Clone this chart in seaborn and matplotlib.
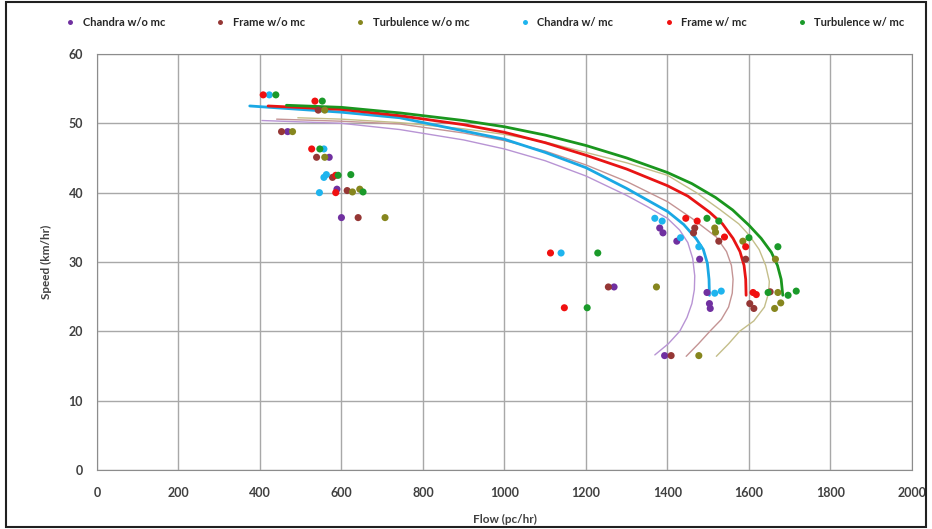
import matplotlib
matplotlib.use("Agg")
import matplotlib.pyplot as plt
import matplotlib.patches as mpatches
import pandas as pd
import seaborn as sns

chandra_wo_flow = [468, 570, 589, 600, 1269, 1381, 1389, 1423, 1479, 1497, 1503, 1505, 1393]
chandra_wo_speed = [48.8, 45.1, 40.5, 36.4, 26.4, 34.9, 34.2, 33.0, 30.4, 25.6, 24.0, 23.3, 16.5]

frame_wo_flow = [453, 543, 539, 578, 614, 641, 1255, 1467, 1464, 1526, 1592, 1602, 1612, 1652, 1409]
frame_wo_speed = [48.8, 51.9, 45.1, 42.2, 40.3, 36.4, 26.4, 34.9, 34.2, 33.0, 30.4, 24.0, 23.3, 25.7, 16.5]

turb_wo_flow = [480, 559, 559, 627, 645, 707, 1373, 1516, 1518, 1585, 1665, 1671, 1678, 1663, 1477]
turb_wo_speed = [48.8, 51.9, 45.1, 40.1, 40.5, 36.4, 26.4, 34.9, 34.3, 33.0, 30.4, 25.6, 24.1, 23.3, 16.5]

chandra_w_flow = [423, 557, 557, 563, 546, 1139, 1369, 1387, 1432, 1477, 1516, 1532]
chandra_w_speed = [54.1, 46.3, 42.2, 42.6, 40.0, 31.3, 36.3, 35.9, 33.5, 32.2, 25.5, 25.8]

frame_w_flow = [408, 535, 527, 586, 586, 1113, 1147, 1445, 1473, 1540, 1592, 1610, 1618]
frame_w_speed = [54.1, 53.2, 46.3, 42.5, 40.0, 31.3, 23.4, 36.3, 35.9, 33.6, 32.2, 25.6, 25.3]

turb_w_flow = [439, 553, 547, 592, 623, 653, 1229, 1203, 1497, 1526, 1600, 1671, 1647, 1696, 1716]
turb_w_speed = [54.1, 53.2, 46.3, 42.5, 42.6, 40.1, 31.3, 23.4, 36.3, 35.9, 33.5, 32.2, 25.6, 25.2, 25.8]

# Fitted curves, points
chandra_wo_curve_flow = [405, 600, 743, 900, 1000, 1100, 1200, 1300, 1350, 1400, 1430, 1450, 1462, 1467,
                         1466, 1460, 1448, 1430, 1402, 1369]
chandra_wo_curve_speed = [50.4, 50.0, 49.1, 47.6, 46.3, 44.6, 42.4, 39.6, 38.0, 36.3, 34.6, 32.8, 30.5, 28.0,
                          26.0, 24.0, 22.0, 20.0, 18.2, 16.6]

frame_wo_curve_flow = [441, 600, 743, 900, 1000, 1100, 1200, 1300, 1400, 1460, 1520, 1545, 1557, 1561,
                       1559, 1550, 1532, 1504, 1476, 1446]
frame_wo_curve_speed = [50.6, 50.3, 49.9, 48.6, 47.5, 46.0, 44.0, 41.6, 38.7, 36.3, 33.6, 31.5, 29.5, 27.5,
                        25.5, 23.5, 21.7, 20.0, 18.2, 16.4]

turb_wo_curve_flow = [493, 600, 743, 900, 1000, 1100, 1200, 1300, 1400, 1471, 1530, 1575, 1600, 1625, 1641,
                      1650, 1648, 1638, 1612, 1577, 1550, 1520]
turb_wo_curve_speed = [50.8, 50.6, 50.1, 49.2, 48.4, 47.3, 45.8, 44.3, 42.5, 40.0, 37.5, 35.5, 33.9, 31.8, 29.5,
                       27.2, 25.5, 23.5, 21.5, 20.0, 18.2, 16.4]

chandra_w_curve_flow = [375, 600, 743, 900, 1000, 1100, 1200, 1300, 1400, 1440, 1470, 1488, 1498, 1502, 1503]
chandra_w_curve_speed = [52.5, 51.6, 50.8, 48.9, 47.7, 45.8, 43.6, 40.6, 37.3, 35.4, 33.4, 31.8, 29.8, 27.5, 25.2]

frame_w_curve_flow = [420, 600, 743, 900, 1000, 1100, 1200, 1300, 1400, 1450, 1503, 1535, 1561, 1578, 1588,
                      1592, 1593]
frame_w_curve_speed = [52.5, 52.0, 51.1, 49.8, 48.7, 47.2, 45.4, 43.4, 41.0, 39.5, 37.2, 35.5, 33.4, 31.5, 29.5,
                       27.5, 25.2]

turb_w_curve_flow = [465, 600, 743, 900, 1000, 1100, 1200, 1300, 1400, 1460, 1518, 1560, 1600, 1630, 1655,
                     1670, 1679, 1683]
turb_w_curve_speed = [52.6, 52.3, 51.5, 50.4, 49.5, 48.3, 46.8, 45.0, 42.9, 41.3, 39.3, 37.5, 35.3, 33.4, 31.4,
                      29.5, 27.5, 25.2]

series = ["Chandra w/o mc", "Frame w/o mc", "Turbulence w/o mc",
          "Chandra w/ mc", "Frame w/ mc", "Turbulence w/ mc"]
dot_colors = ["#7030A0", "#953735", "#86861E", "#1EB4EE", "#F01010", "#1A9A2A"]
line_colors = ["#B894D4", "#C49494", "#C4BE8A", "#1AA8E4", "#E81414", "#1A961E"]
line_widths = [1.0, 1.0, 1.0, 2.0, 2.0, 2.0]

pts = [(chandra_wo_flow, chandra_wo_speed), (frame_wo_flow, frame_wo_speed),
       (turb_wo_flow, turb_wo_speed), (chandra_w_flow, chandra_w_speed),
       (frame_w_flow, frame_w_speed), (turb_w_flow, turb_w_speed)]
curves = [(chandra_wo_curve_flow, chandra_wo_curve_speed), (frame_wo_curve_flow, frame_wo_curve_speed),
          (turb_wo_curve_flow, turb_wo_curve_speed), (chandra_w_curve_flow, chandra_w_curve_speed),
          (frame_w_curve_flow, frame_w_curve_speed), (turb_w_curve_flow, turb_w_curve_speed)]

df_pts = pd.concat([pd.DataFrame({"flow": f, "speed": s, "model": name})
                    for name, (f, s) in zip(series, pts)], ignore_index=True)

sns.set_style("white")
plt.rcParams['font.family'] = ['Lato', 'DejaVu Sans']

fig = plt.figure(figsize=(9.32, 5.29), dpi=100)
ax = fig.add_axes([0.104, 0.1115, 0.8745, 0.7865])

for name, (f, s), c, lw in zip(series, curves, line_colors, line_widths):
    sns.lineplot(x=f, y=s, sort=False, color=c, lw=lw, ax=ax, legend=False, estimator=None)

sns.scatterplot(data=df_pts, x="flow", y="speed", hue="model", hue_order=series,
                palette=dot_colors, s=26, linewidth=0, ax=ax, zorder=5)

ax.set_xlim(0, 2000)
ax.set_ylim(0, 60)
ax.set_xticks(range(0, 2001, 200))
ax.set_yticks(range(0, 61, 10))
ax.grid(True, color="#A8A8A8", lw=1)
for sp in ax.spines.values():
    sp.set_color("#8C8C8C")
ax.tick_params(axis="both", length=3, color="#8C8C8C", labelsize=9, labelcolor="#404040")
ax.tick_params(axis="x", pad=9)
ax.tick_params(axis="y", pad=7)
for lab in ax.get_xticklabels() + ax.get_yticklabels():
    lab.set_fontweight("bold")
ax.set_xlabel("Flow (pc/hr)", fontsize=8.5, fontweight="bold", color="#404040", labelpad=11)
ax.set_ylabel("Speed (km/hr)", fontsize=8.5, fontweight="bold", color="#404040", labelpad=12)

handles, labels = ax.get_legend_handles_labels()
ax.get_legend().remove()
fig.legend(handles, labels, loc="center", bbox_to_anchor=(0.517, 0.957), ncol=6,
           frameon=False, handletextpad=0.1, columnspacing=4.0,
           markerscale=0.7, prop={"weight": "bold", "size": 8})

fig.patches.append(mpatches.Rectangle((0.006, 0.004), 0.988, 0.992, transform=fig.transFigure,
                                      fill=False, edgecolor="#202020", lw=1.5))

fig.savefig("out.png", dpi=100)
